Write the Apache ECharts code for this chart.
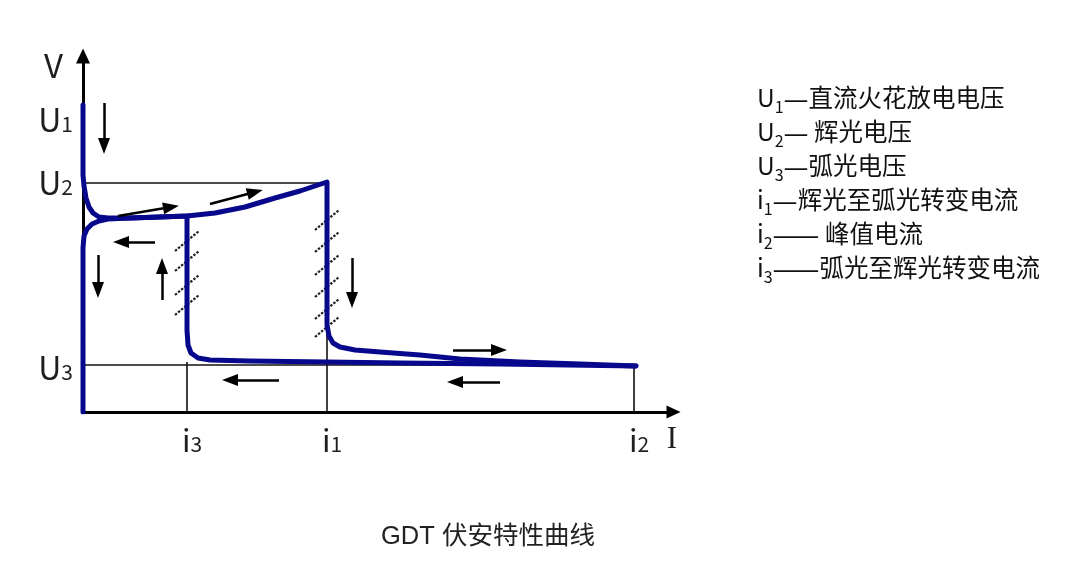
<!DOCTYPE html>
<html><head><meta charset="utf-8">
<script src="https://cdn.jsdelivr.net/npm/echarts@6/dist/echarts.min.js"></script>
<style>html,body{margin:0;padding:0;background:#fff}#c{width:1080px;height:566px}</style>
</head><body><div id="c"></div>
<script>
// ---- schematic levels (arbitrary units: I horizontal, V vertical) ----
const U1 = 307, U2 = 229, U3 = 47;
const I3 = 104, I1 = 244, I2 = 551;
const X_MAX = 590.5, Y_MAX = 356;

// forward path: U1 breakdown -> glow region -> rise to U2 at i1 -> drop to arc -> peak current i2
const forwardCurve = [
  [0,307],[0,262],[0,237],[1,226],[3,214],[6,205],[10,199],[16,195],[25,194],[47,194],[77,195],
  [104,196],[132,199],[162,205],[192,214],[217,221],[244,230],
  [244,112],[244,87],[246,76],[250,69],[257,65],[272,62],[297,60],[337,57],[377,53],[437,50],[497,48],[553,46]
];
// return path: i2 -> arc back to i3 -> jump to glow -> back to zero
const returnCurve = [
  [553,46],[417,48],[317,49],[244,50],[167,51],[127,52],[115,54],[108,59],[105,67],[104,82],[104,152],[104,196],
  [77,195],[47,194],[25,193],[16,191],[9,188],[4,183],[1,176],[0,164],[0,112],[0,0]
];

// thin guide lines
const guideLines = [
  [[0,U2],[I1,U2]],
  [[0,U3],[400,U3]],
  [[I3,0],[I3,U3+3]],
  [[I1,0],[I1,U2]],
  [[I2,0],[I2,46]]
];

// direction arrows [from, to]
const arrowSegs = [
  [[21,309],[21,266]],
  [[35,196],[88,205]],
  [[127,208],[172,220]],
  [[72,170],[38,170]],
  [[15,157],[15,122]],
  [[79,112],[79,146]],
  [[269,154],[269,112]],
  [[370,62],[416,62]],
  [[196,32],[147,32]],
  [[417,30],[372,30]]
];

// unstable-region hatch centres (V values) along i3 and i1
const hatchI3 = [171,151,127,107];
const hatchI1 = [192,170,147,125,103,85];

// axis tick labels
const yLabelValues = [44, 229, 292, 347];
const yLabelMain = ['U','U','U','V'];
const yLabelSub = ['3','2','1',''];
const xLabelValues = [I3, I1, I2, 589];
const xLabelMain = ['i','i','i','I'];
const xLabelSub = ['3','1','2',''];

// notes
const noteMain = ['U','U','U','i','i','i'];
const noteSub = ['1','2','3','1','2','3'];
const noteText = ['—直流火花放电电压','— 辉光电压','—弧光电压','—辉光至弧光转变电流','—— 峰值电流','——弧光至辉光转变电流'];
const titleText = 'GDT 伏安特性曲线';

const CJK = '"Noto Sans CJK SC", "Noto Sans", sans-serif';
const BLUE = '#08088c';

function hatch(x, ys){ return ys.map(y => ({coords: [[x-12, y-10], [x+12, y+10]]})); }

const chart = echarts.init(document.getElementById('c'), null, {renderer: 'canvas'});
const labelRich = {
  m: {fontSize: 32, lineHeight: 30, color: '#1e1e1e', fontFamily: CJK},
  s: {fontSize: 21, lineHeight: 17, verticalAlign: 'bottom', color: '#1e1e1e', fontFamily: CJK},
  v: {fontSize: 33, lineHeight: 30, color: '#1e1e1e', fontFamily: CJK, padding: [0, 10, 0, 0]},
  I: {fontSize: 31, lineHeight: 30, color: '#1e1e1e', fontFamily: '"Liberation Serif", serif'},
  ix: {fontSize: 31, lineHeight: 30, color: '#1e1e1e', fontFamily: CJK, padding: [0, 0, 0, 10]}
};

const noteRich = {
  m: {fontSize: 24.5, lineHeight: 34, color: '#111', fontFamily: CJK},
  d: {fontSize: 28, lineHeight: 34, color: '#111', fontFamily: CJK},
  s: {fontSize: 16, lineHeight: 29, verticalAlign: 'bottom', color: '#111', fontFamily: CJK}
};
function noteLine(i) {
  const t = noteText[i];
  const dashes = t.match(/^—+/)[0];
  return '{m|' + noteMain[i] + '}{s|' + noteSub[i] + '}{d|' + dashes + '}{m|' + t.slice(dashes.length) + '}';
}
const noteStr = noteText.map((t, i) => noteLine(i)).join('\n');

chart.setOption({
  animation: false,
  backgroundColor: '#fff',
  title: {
    text: titleText, left: 376, top: 519,
    textStyle: {fontSize: 25.5, fontWeight: 'normal', color: '#222', fontFamily: '"Liberation Sans", "Noto Sans CJK SC", sans-serif'}
  },
  grid: {left: 83, right: 1080 - 673.5, top: 56, bottom: 154, containLabel: false},
  xAxis: {
    type: 'value', min: 0, max: X_MAX,
    axisLine: {show: true, onZero: false, symbol: ['none', 'triangle'], symbolSize: [13, 14], lineStyle: {color: '#000', width: 3}},
    axisTick: {show: false}, splitLine: {show: false},
    axisLabel: {
      customValues: xLabelValues, margin: 13, rich: labelRich,
      formatter: function (v) {
        const i = xLabelValues.indexOf(v);
        if (i < 0) return '';
        if (xLabelMain[i] === 'I') return '{I|I}';
        return '{ix|' + xLabelMain[i] + '}{s|' + xLabelSub[i] + '}';
      }
    }
  },
  yAxis: {
    type: 'value', min: 0, max: Y_MAX,
    axisLine: {show: true, onZero: false, symbol: ['none', 'triangle'], symbolSize: [14, 15], lineStyle: {color: '#000', width: 3}},
    axisTick: {show: false}, splitLine: {show: false},
    axisLabel: {
      customValues: yLabelValues, margin: 10, rich: labelRich,
      formatter: function (v) {
        const i = yLabelValues.indexOf(v);
        if (i < 0) return '';
        if (yLabelMain[i] === 'V') return '{v|V}';
        return '{m|' + yLabelMain[i] + '}{s|' + yLabelSub[i] + '}';
      }
    }
  },
  graphic: [{
    type: 'text', left: 757, top: 84,
    style: {text: noteStr, rich: noteRich, fill: '#111'}
  }],
  series: [
    {
      type: 'lines', coordinateSystem: 'cartesian2d', silent: true, z: 2,
      data: guideLines.map(c => ({coords: c})),
      lineStyle: {color: '#111', width: 1.6, opacity: 1}
    },
    {
      type: 'lines', coordinateSystem: 'cartesian2d', silent: true, z: 2,
      data: hatch(I3, hatchI3).concat(hatch(I1, hatchI1)),
      lineStyle: {color: '#222', width: 2.2, type: [2.5, 1.5], opacity: 1}
    },
    {
      type: 'line', data: forwardCurve, showSymbol: false, silent: true, z: 5,
      lineStyle: {color: BLUE, width: 5, join: 'round', cap: 'round'}
    },
    {
      type: 'line', data: returnCurve, showSymbol: false, silent: true, z: 5,
      lineStyle: {color: BLUE, width: 5, join: 'round', cap: 'round'}
    },
    {
      type: 'lines', coordinateSystem: 'cartesian2d', silent: true, z: 6,
      symbol: ['none', 'triangle'], symbolSize: [0, [12, 16]],
      data: arrowSegs.map(c => ({coords: c})),
      lineStyle: {color: '#000', width: 2.5, opacity: 1}
    }
  ]
});
</script>
</body></html>
